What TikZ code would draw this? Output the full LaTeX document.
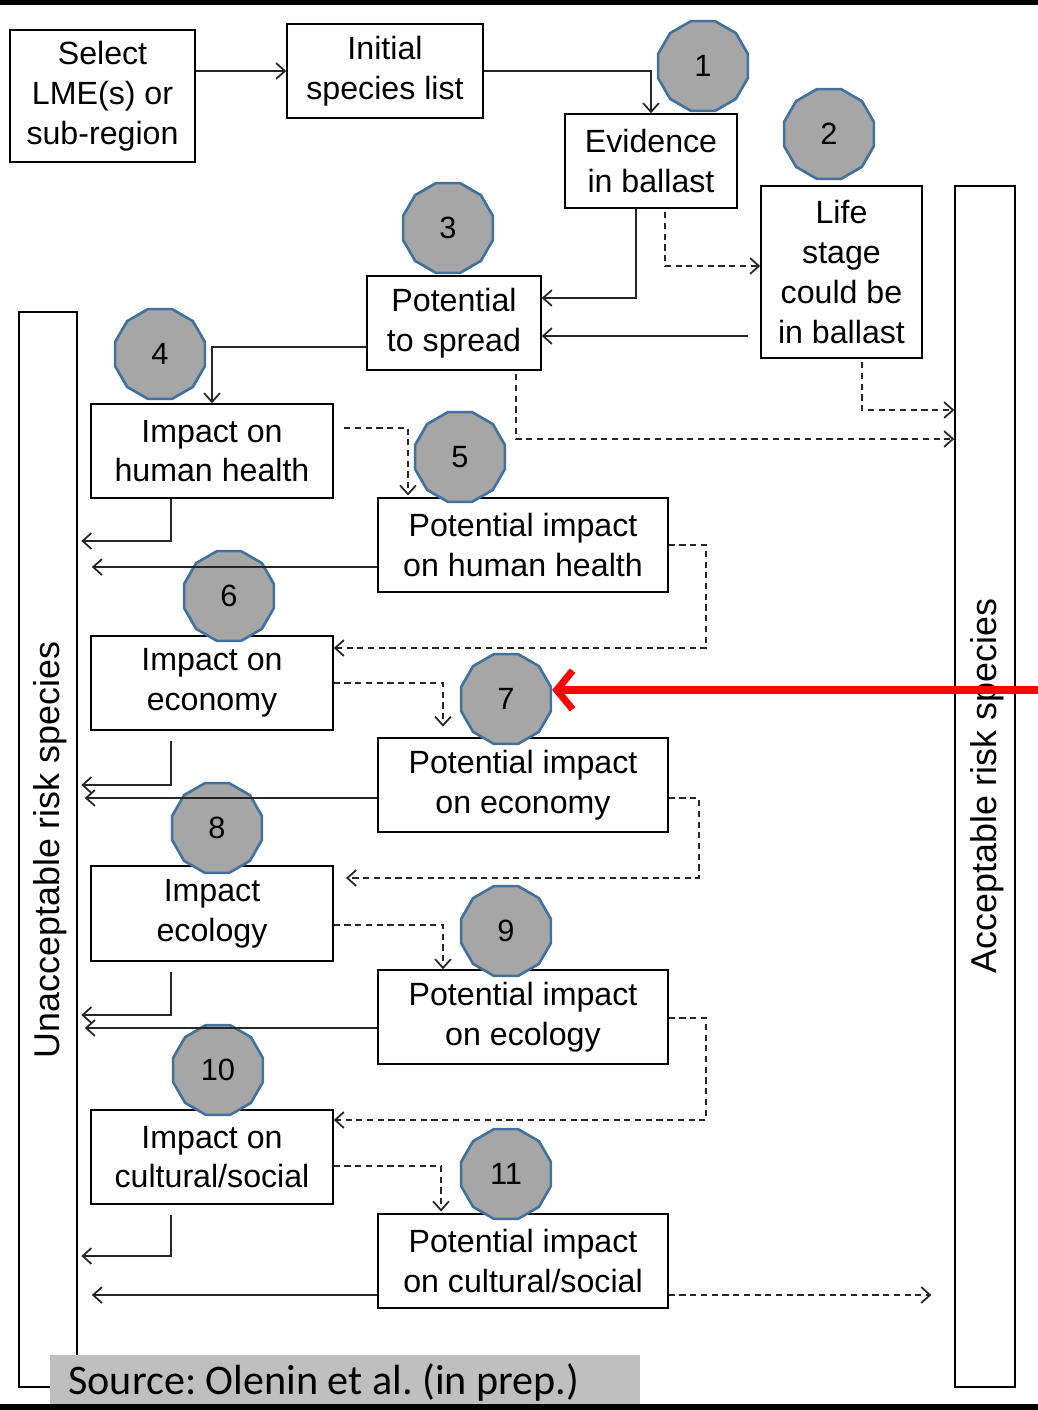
\documentclass[tikz,border=0pt]{standalone}
\usepackage{fontspec}
\setmainfont{Liberation Sans}
\newfontfamily\srcfont{Carlito}
\usetikzlibrary{shapes.geometric,arrows.meta}
\definecolor{badge area}{HTML}{A6A6A6}
\definecolor{badge rim}{HTML}{41719C}
\definecolor{source area}{HTML}{BFBFBF}
\tikzset{stepbox/.style={draw, line width=0.9pt, align=center, inner sep=0pt,
        font=\fontsize{18.3}{22.6}\selectfont},
    sidebar/.style={draw, line width=0.9pt, inner sep=0pt},
    badge/.style={regular polygon, regular polygon sides=12, minimum size=1.86cm,
        inner sep=0pt, fill=badge area, draw=badge rim, line width=1.5pt,
        font=\fontsize{17.5}{20}\selectfont},
    flow/.style={draw=black!85, line width=1pt, ->},
    dflow/.style={flow, dash pattern=on 3.5pt off 2.6pt}}
\frenchspacing

\begin{document}
\begin{tikzpicture}[x=0.02cm, y=-0.02cm,
    >={Straight Barb[length=5pt,width=9pt]}]
     \useasboundingbox (0,0) rectangle (1038,1410);
     % boxes of the decision tree
     \node[stepbox, minimum width=3.7cm, minimum height=2.64cm] (select) at (102.5,96) {Select\\LME(s) or\\sub-region};
     \node[stepbox, minimum width=3.92cm, minimum height=1.88cm] (initial) at (385,71) {Initial\\species list};
     \node[stepbox, minimum width=3.44cm, minimum height=1.88cm] (evid) at (651,161) {Evidence\\in ballast};
     \node[stepbox, minimum width=3.22cm, minimum height=3.44cm] (life) at (841.5,272) {Life\\stage\\could be\\in ballast};
     \node[stepbox, minimum width=3.48cm, minimum height=1.88cm] (spread) at (454,323) {Potential\\to spread};
     \node[stepbox, minimum width=4.84cm, minimum height=1.88cm] (ihh) at (212,451) {Impact on\\human health};
     \node[stepbox, minimum width=5.8cm, minimum height=1.88cm] (phh) at (523,545) {Potential impact\\on human health};
     \node[stepbox, minimum width=4.84cm, minimum height=1.88cm] (iec) at (212,683) {Impact on\\economy};
     \node[stepbox, minimum width=5.8cm, minimum height=1.88cm] (pec) at (523,785) {Potential impact\\on economy};
     \node[stepbox, minimum width=4.84cm, minimum height=1.9cm] (ieco) at (212,913.5) {Impact\\ecology};
     \node[stepbox, minimum width=5.8cm, minimum height=1.88cm] (peco) at (523,1017) {Potential impact\\on ecology};
     \node[stepbox, minimum width=4.84cm, minimum height=1.88cm] (icul) at (212,1157) {Impact on\\cultural/social};
     \node[stepbox, minimum width=5.8cm, minimum height=1.88cm] (pcul) at (523,1261) {Potential impact\\on cultural/social};
     % outcome bars
     \node[sidebar, minimum width=1.16cm, minimum height=21.5cm] (unacc) at (48,849.5) {};
     \node[rotate=90, font=\fontsize{20.4}{24}\selectfont] (unacclbl) at (50,850) {Unacceptable risk species};
     \node[sidebar, minimum width=1.2cm, minimum height=24.02cm] (acc) at (985,786.5) {};
     \node[rotate=90, font=\fontsize{20.4}{24}\selectfont] (acclbl) at (987,786) {Acceptable risk species};
     % numbered steps
     \node[badge] (b1) at (703,66) {1};
     \node[badge] (b2) at (829,134) {2};
     \node[badge] (b3) at (448,228) {3};
     \node[badge] (b4) at (160,354) {4};
     \node[badge] (b5) at (460,457) {5};
     \node[badge] (b6) at (229,596) {6};
     \node[badge] (b7) at (506,699) {7};
     \node[badge] (b8) at (217,828) {8};
     \node[badge] (b9) at (506,931) {9};
     \node[badge] (b10) at (218,1070) {10};
     \node[badge] (b11) at (506,1174) {11};
     % connectors
     \draw[flow] (select.east |- initial.west) -- (initial.west);
     \draw[flow] (initial.east) -| (evid.north);
     \draw[flow] (evid.south -| 636,0) |- (spread.east |- 0,298);
     \draw[dflow, shorten <=2pt] (evid.south -| 665,0) |- (life.west |- 0,266);
     \draw[flow, shorten <=7pt] (life.west |- 0,336) -- (spread.east |- 0,336);
     \draw[dflow, shorten <=2pt] (life.south -| 862,0) |- (acc.west |- 0,410);
     \draw[dflow, shorten <=2pt] (spread.south -| 516,0) |- (acc.west |- 0,439);
     \draw[flow] (spread.west |- 0,347) -| (ihh.north);
     \draw[dflow, shorten <=6pt, shorten >=1pt] (ihh.east |- 0,428) -| (phh.north -| 408,0);
     \draw[flow, shorten >=2pt] (ihh.south -| 171,0) |- (unacc.east |- 0,541);
     \draw[flow, shorten >=8pt] (phh.west |- 0,567) -- (unacc.east |- 0,567);
     \draw[dflow] (phh.east) -- ++(37,0) |- (iec.east |- 0,648);
     \draw[dflow, shorten >=6pt] (iec.east) -| (pec.north -| 443,0);
     \draw[flow, shorten <=6pt, shorten >=2pt] (iec.south -| 171,0) |- (unacc.east |- 0,785);
     \draw[flow, shorten >=4pt] (pec.west |- 0,798) -- (unacc.east |- 0,798);
     \draw[dflow, shorten >=7pt] (pec.east |- 0,798) -- ++(30,0) |- (ieco.east |- 0,878);
     \draw[dflow] (ieco.east |- 0,925) -| (peco.north -| 443,0);
     \draw[flow, shorten <=6pt, shorten >=2pt] (ieco.south -| 171,0) |- (unacc.east |- 0,1015);
     \draw[flow, shorten >=4pt] (peco.west |- 0,1028) -- (unacc.east |- 0,1028);
     \draw[dflow] (peco.east |- 0,1018) -- ++(37,0) |- (icul.east |- 0,1120);
     \draw[dflow, shorten >=1pt] (icul.east |- 0,1166) -| (pcul.north -| 441,0);
     \draw[flow, shorten <=6pt, shorten >=2pt] (icul.south -| 171,0) |- (unacc.east |- 0,1256);
     \draw[flow, shorten >=8pt] (pcul.west |- 0,1295) -- (unacc.east |- 0,1295);
     \draw[dflow, shorten >=13pt] (pcul.east |- 0,1295) -- (acc.west |- 0,1295);
     % highlight of step 7
     \coordinate (redtail) at (1038,690);
     \draw[red, line width=4pt, -{Straight Barb[length=9pt,width=22pt]}] (redtail) -- (b7.east |- 0,690);
     % source note and frame bars
     \fill[source area] (50,1355) rectangle (640,1410);
     \node[anchor=base west, inner sep=0pt, font=\srcfont\fontsize{24}{28}\selectfont] (src) at (68,1394) {Source: Olenin et al. (in prep.)};
     \fill[black] (0,0) rectangle (1038,5);
     \fill[black] (0,1404) rectangle (1038,1410);
\end{tikzpicture}
\end{document}
